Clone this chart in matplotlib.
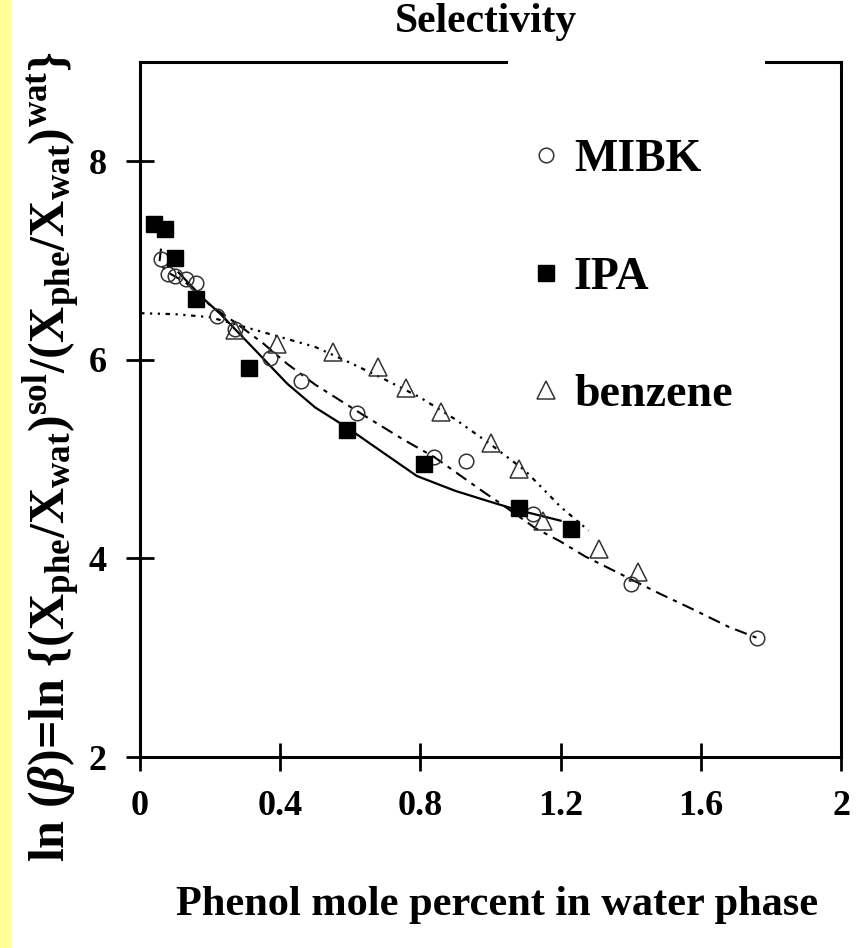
import matplotlib
matplotlib.use("Agg")
import matplotlib.pyplot as plt
from matplotlib.patches import Rectangle

# measured points
mibk_x = [0.06, 0.08, 0.10, 0.13, 0.16, 0.22, 0.27, 0.37, 0.46, 0.62, 0.84, 0.93, 1.12, 1.40, 1.76]
mibk_y = [7.02, 6.86, 6.84, 6.81, 6.77, 6.44, 6.31, 6.02, 5.79, 5.46, 5.02, 4.98, 4.45, 3.74, 3.20]

ipa_x = [0.04, 0.07, 0.10, 0.16, 0.31, 0.59, 0.81, 1.08, 1.23]
ipa_y = [7.37, 7.32, 7.03, 6.61, 5.92, 5.29, 4.95, 4.51, 4.30]

benz_x = [0.27, 0.39, 0.55, 0.68, 0.76, 0.86, 1.00, 1.08, 1.15, 1.31, 1.42]
benz_y = [6.30, 6.16, 6.08, 5.93, 5.72, 5.47, 5.16, 4.90, 4.38, 4.10, 3.86]

# fitted curves
mibk_fit_x = [0.06, 0.055, 0.08, 0.13, 0.20, 0.27, 0.35, 0.42, 0.50, 0.63, 0.75, 0.84, 0.98,
              1.03, 1.13, 1.20, 1.27, 1.35, 1.48, 1.57, 1.68, 1.76]
mibk_fit_y = [7.12, 6.97, 6.88, 6.78, 6.55, 6.38, 6.17, 5.96, 5.75, 5.46, 5.20, 5.02, 4.67,
              4.55, 4.30, 4.17, 4.02, 3.88, 3.65, 3.50, 3.31, 3.20]

ipa_fit_x = [0.11, 0.18, 0.23, 0.32, 0.42, 0.50, 0.59, 0.70, 0.79, 0.90, 1.00, 1.075, 1.20]
ipa_fit_y = [6.88, 6.62, 6.46, 6.13, 5.76, 5.52, 5.32, 5.05, 4.83, 4.68, 4.57, 4.49, 4.38]

benz_fit_x = [0.0, 0.10, 0.20, 0.30, 0.40, 0.50, 0.60, 0.70, 0.80, 0.90, 1.00, 1.10, 1.20, 1.28]
benz_fit_y = [6.47, 6.46, 6.43, 6.33, 6.23, 6.13, 5.97, 5.80, 5.62, 5.40, 5.15, 4.88, 4.52, 4.28]

x_ticks = [0, 0.4, 0.8, 1.2, 1.6, 2]
x_ticklabels = ["0", "0.4", "0.8", "1.2", "1.6", "2"]
y_ticks = [2, 4, 6, 8]

plt.rcParams["font.family"] = ["Liberation Serif", "DejaVu Serif"]
plt.rcParams["font.weight"] = "bold"
plt.rcParams["mathtext.fontset"] = "custom"
plt.rcParams["mathtext.rm"] = "Liberation Serif:bold"
plt.rcParams["mathtext.bf"] = "Liberation Serif:bold"
plt.rcParams["mathtext.it"] = "Liberation Serif:italic:bold"

fig = plt.figure(figsize=(8.65, 9.48), dpi=100)
fig.patches.append(Rectangle((0, 0), 12 / 865, 1, transform=fig.transFigure,
                             facecolor="#FFFF99", edgecolor="none"))
ax = fig.add_axes([140 / 865, 1 - 757 / 948, 701 / 865, 695 / 948])

edge = "#333333"
ax.plot(benz_fit_x, benz_fit_y, color="black", lw=1.6, ls=(0, (2, 2.5, 1, 2.5, 1, 2.5)))
ax.plot(mibk_fit_x, mibk_fit_y, color="black", lw=1.5, ls=(0, (6, 3, 2, 3)))
ax.plot(ipa_fit_x, ipa_fit_y, color="black", lw=1.6, ls="-")

ax.plot(mibk_x, mibk_y, "o", ms=10.5, mfc="none", mec=edge, mew=1.1, label="MIBK")
ax.plot(ipa_x, ipa_y, "s", ms=11.5, mfc="black", mec="black", label="IPA")
ax.plot(benz_x, benz_y, "^", ms=12.5, mfc="none", mec=edge, mew=1.1, label="benzene")

ax.set_xlim(0, 2)
ax.set_ylim(2, 9)
ax.set_xticks(x_ticks)
ax.set_xticklabels(x_ticklabels)
ax.set_yticks(y_ticks)
ax.tick_params(direction="inout", length=20, width=2, labelsize=26, pad=14)
for s in ax.spines.values():
    s.set_linewidth(2.2)

# gap in top frame, where the legend box sat
ax.add_patch(Rectangle((368 / 701, 0.99), 257 / 701, 0.03, transform=ax.transAxes,
                       facecolor="white", edgecolor="none", clip_on=False, zorder=3))

ax.legend(loc="upper left", bbox_to_anchor=(395 / 701, 1 - 77 / 695), frameon=False,
          fontsize=33, borderpad=0, borderaxespad=0, handlelength=0.5,
          handletextpad=0.35, labelspacing=1.65)

fig.text(486 / 865, 1 - 32 / 948, "Selectivity", ha="center", va="baseline",
         fontsize=30, fontweight="bold")
fig.text(497 / 865, 1 - 905 / 948, "Phenol mole percent in water phase",
         ha="center", va="center", fontsize=30.5, fontweight="bold")
fig.text(52 / 865, 1 - 862 / 948,
         r"ln $(\beta)$=ln $\{(\mathrm{X_{phe}/X_{wat}})^{\mathrm{sol}}/(\mathrm{X_{phe}/X_{wat}})^{\mathrm{wat}}\}$",
         rotation=90, ha="center", va="bottom", fontsize=36, fontweight="bold")

fig.savefig("out.png", dpi=100)
